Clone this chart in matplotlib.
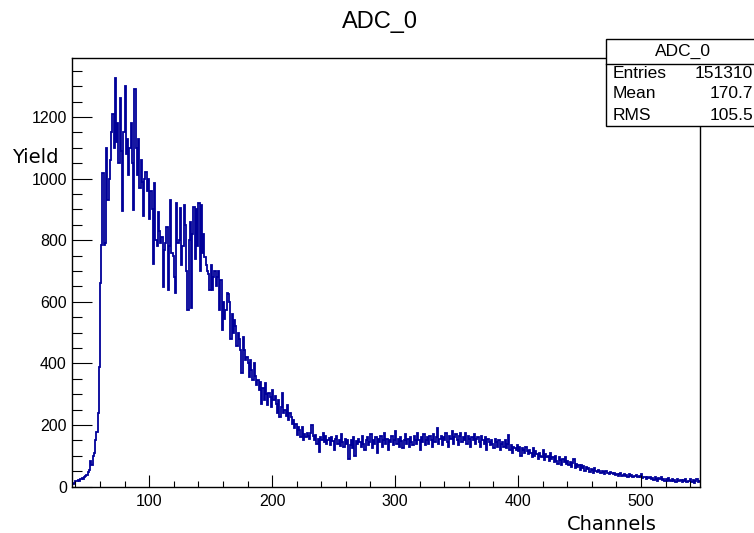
import matplotlib
matplotlib.use("Agg")
import matplotlib.pyplot as plt
from matplotlib.patches import Rectangle
from matplotlib.lines import Line2D
import numpy as np

# histogram ADC_0, one bin per channel, first bin starts at channel 37
first_channel = 37
yields = [
    8, 10, 12, 18, 20, 22, 20, 25, 28, 24,
    30, 34, 38, 48, 55, 85, 72, 100, 110, 150,
    178, 240, 390, 660, 784, 1017, 784, 790, 1099, 930,
    1000, 1060, 1150, 1210, 1100, 1325, 1120, 1180, 1050, 1262,
    1090, 895, 1150, 1300, 1080, 1130, 1010, 1100, 1180, 1050,
    899, 1290, 1100, 1010, 1130, 970, 1060, 990, 880, 1000,
    1020, 960, 1000, 870, 960, 900, 724, 984, 800, 780,
    891, 830, 790, 810, 648, 768, 790, 844, 637, 780,
    930, 760, 749, 680, 627, 920, 790, 800, 903, 720,
    780, 913, 850, 700, 573, 800, 860, 580, 820, 908,
    740, 900, 780, 920, 700, 913, 760, 820, 745, 720,
    700, 690, 638, 720, 638, 680, 700, 650, 680, 700,
    573, 670, 510, 600, 545, 573, 630, 625, 600, 478,
    560, 500, 540, 520, 455, 500, 478, 443, 370, 485,
    443, 410, 420, 400, 357, 410, 380, 346, 400, 360,
    330, 346, 314, 340, 270, 320, 281, 335, 300, 265,
    303, 290, 260, 314, 281, 295, 270, 238, 281, 227,
    260, 303, 240, 250, 230, 265, 216, 240, 225, 205,
    216, 190, 205, 168, 195, 185, 162, 195, 151, 170,
    160, 175, 165, 155, 173, 200, 165, 150, 168, 140,
    155, 114, 160, 150, 175, 145, 165, 140, 150, 158,
    135, 160, 148, 120, 155, 165, 140, 150, 132, 170,
    145, 128, 155, 140, 150, 90, 135, 150, 125, 160,
    100, 148, 138, 155, 145, 130, 165, 140, 118, 150,
    160, 135, 145, 170, 125, 150, 140, 160, 108, 155,
    145, 165, 130, 150, 175, 140, 155, 120, 150, 145,
    165, 135, 150, 180, 140, 155, 130, 160, 148, 125,
    150, 170, 140, 155, 130, 160, 145, 135, 165, 150,
    140, 175, 150, 120, 160, 145, 170, 135, 150, 160,
    140, 165, 150, 130, 170, 145, 160, 190, 140, 155,
    165, 135, 160, 150, 175, 145, 130, 165, 155, 180,
    140, 160, 170, 150, 135, 165, 175, 145, 160, 150,
    173, 140, 165, 155, 130, 160, 150, 170, 140, 155,
    160, 145, 130, 165, 150, 140, 160, 120, 155, 145,
    135, 150, 140, 125, 155, 145, 130, 150, 120, 140,
    145, 130, 150, 125, 140, 168, 120, 135, 110, 130,
    125, 120, 135, 115, 130, 100, 125, 120, 110, 128,
    115, 105, 120, 110, 95, 125, 100, 115, 105, 90,
    110, 100, 95, 120, 88, 105, 95, 100, 85, 110,
    90, 95, 80, 100, 85, 75, 95, 88, 70, 90,
    80, 95, 75, 85, 70, 80, 65, 78, 90, 60,
    75, 65, 70, 55, 72, 60, 68, 50, 65, 58,
    62, 48, 58, 55, 45, 60, 52, 48, 55, 50,
    45, 52, 48, 42, 50, 44, 46, 40, 48, 43,
    40, 45, 38, 42, 36, 40, 43, 35, 38, 40,
    36, 38, 33, 40, 35, 37, 32, 36, 34, 38,
    32, 35, 30, 40, 28, 33, 30, 25, 32, 27,
    30, 25, 28, 22, 30, 26, 20, 28, 24, 30,
    22, 26, 20, 25, 18, 27, 22, 20, 24, 18,
    22, 16, 25, 20, 18, 23, 15, 21, 19, 25,
    14, 20, 18, 24, 15, 22, 12, 20, 26, 16,
    18,
]
edges = np.arange(first_channel, first_channel + len(yields) + 1)

stat_names = ["Entries", "Mean", "RMS"]
stat_values = ["151310", "170.7", "105.5"]

plt.rcParams['font.family'] = ['Liberation Sans', 'DejaVu Sans']

fig = plt.figure(figsize=(7.54, 5.33), dpi=100)
ax = fig.add_axes([71.7/754, 1-486.7/533, (700-71.7)/754, (486.7-58)/533])

# histogram outline
ax.stairs(yields, edges, color='#000099', lw=1.3, baseline=None)

ax.set_xlim(37, 548)
ax.set_ylim(0, max(yields) * 1.05)
ax.set_xticks(np.arange(100, 501, 100))
ax.set_xticks(np.arange(40, 548, 20), minor=True)
ax.set_yticks(np.arange(0, 1201, 200))
ax.set_yticks(np.arange(0, 1391, 50), minor=True)

ax.tick_params(axis='x', which='major', direction='in', length=8.6, width=0.8, pad=5.5, labelsize=11.5)
ax.tick_params(axis='x', which='minor', direction='in', length=4.3, width=0.8)
ax.tick_params(axis='y', which='major', direction='in', length=14.4, width=0.8, pad=3.5, labelsize=11.5)
ax.tick_params(axis='y', which='minor', direction='in', length=7.2, width=0.8)
for s in ax.spines.values():
    s.set_linewidth(1.0)

# title and axis titles
fig.text(380/754, 1-22/533, "ADC_0", ha='center', va='center', fontsize=17)
fig.text(35/754, 1-158/533, "Yield", ha='center', va='center', fontsize=14, family='DejaVu Sans')
fig.text(612/754, 1-524/533, "Channels", ha='center', va='center', fontsize=14, family='DejaVu Sans')

# stats box
box = Rectangle((606/754, 1-126/533), 0.3, (126-39)/533, transform=fig.transFigure,
                facecolor='white', edgecolor='black', lw=1.0, zorder=5)
fig.add_artist(box)
fig.add_artist(Line2D([606/754, 1], [1-64/533, 1-64/533], transform=fig.transFigure,
                      color='black', lw=1.0, zorder=6))
fig.text(683/754, 1-51.5/533, "ADC_0", ha='center', va='center', fontsize=12.5, zorder=7)
rows_y = [73, 94, 115]
for name, val, yy in zip(stat_names, stat_values, rows_y):
    fig.text(613/754, 1-yy/533, name, ha='left', va='center', fontsize=12.5, zorder=7)
    fig.text(753/754, 1-yy/533, val, ha='right', va='center', fontsize=12.5, zorder=7)

fig.savefig("out.png", dpi=100)
